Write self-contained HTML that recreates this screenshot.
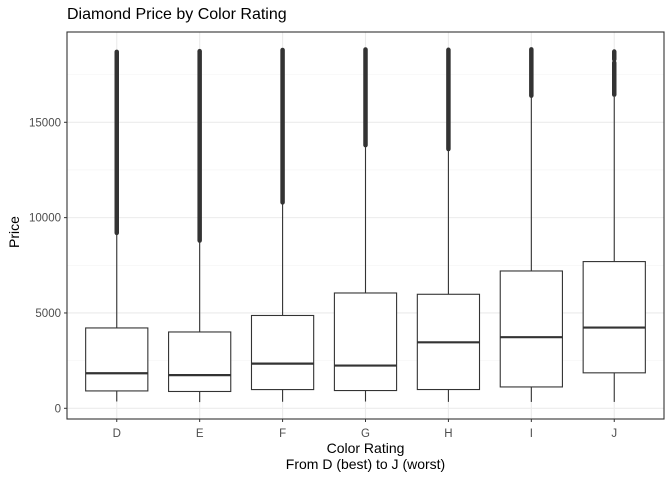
<!DOCTYPE html>
<html><head><meta charset="utf-8"><style>
body{margin:0;background:#fff;font-family:"Liberation Sans",Arial,sans-serif}
</style></head><body>
<svg id="chart" width="672" height="480" xmlns="http://www.w3.org/2000/svg"></svg>
<script>
const categories=["D","E","F","G","H","I","J"];
const mins=[357,326,342,354,337,334,335];
const q1s=[911,882,982,931,984,1120,1860];
const medians=[1838,1739,2344,2242,3460,3730,4234];
const q3s=[4214,4003,4868,6048,5980,7202,7695];
const upperWhiskers=[9100,8700,10700,13700,13500,16300,16330];
const outlierStarts=[[9200],[8800],[10800],[13800],[13600],[16400],[16450,18300]];
const outlierEnds=[[18693],[18731],[18791],[18818],[18803],[18823],[18130,18710]];
const yTicks=[0,5000,10000,15000];
const yMinor=[2500,7500,12500,17500];

const NS="http://www.w3.org/2000/svg";
const svg=document.getElementById('chart');
const L=67,R=664,T=32,B=419;
const y=v=>408.3-v*0.019067;
const step=(R-L)/(categories.length+0.2);
const x=i=>L+step*(i+0.6);
function mk(tag,attrs,parent){const e=document.createElementNS(NS,tag);for(const k in attrs)e.setAttribute(k,attrs[k]);(parent||svg).appendChild(e);return e;}

mk('rect',{x:L,y:T,width:R-L,height:B-T,fill:'#fff'});
yMinor.forEach(v=>{const l=mk('line',{x1:L,x2:R,y1:y(v),y2:y(v),stroke:'#f3f3f3','stroke-width':0.6});

});
yTicks.forEach(v=>{const l=mk('line',{x1:L,x2:R,y1:y(v),y2:y(v),stroke:'#ebebeb','stroke-width':1.1});


mk('line',{x1:L-3,x2:L,y1:y(v),y2:y(v),stroke:'#333','stroke-width':1});
const t=mk('text',{x:L-6,y:y(v)+4,'text-anchor':'end','font-size':11.5,fill:'#4d4d4d'});t.textContent=v;

});
categories.forEach((c,i)=>{const l=mk('line',{x1:x(i),x2:x(i),y1:T,y2:B,stroke:'#ebebeb','stroke-width':1.1});

});

categories.forEach((c,i)=>{
 const g=mk('g',{});
 
 
 const cx=x(i),w=step*0.75;
 mk('line',{x1:cx,x2:cx,y1:y(mins[i]),y2:y(q1s[i]),stroke:'#333','stroke-width':1.1},g);
 mk('line',{x1:cx,x2:cx,y1:y(q3s[i]),y2:y(upperWhiskers[i]),stroke:'#333','stroke-width':1.1},g);
 outlierStarts[i].forEach((s,k)=>{mk('line',{x1:cx,x2:cx,y1:y(s),y2:y(outlierEnds[i][k]),stroke:'#333','stroke-width':4.5,'stroke-linecap':'round'},g);});
 mk('rect',{x:cx-w/2,y:y(q3s[i]),width:w,height:y(q1s[i])-y(q3s[i]),fill:'#fff',stroke:'#333','stroke-width':1.1},g);
 mk('line',{x1:cx-w/2,x2:cx+w/2,y1:y(medians[i]),y2:y(medians[i]),stroke:'#333','stroke-width':2.2},g);
 mk('line',{x1:cx,x2:cx,y1:B,y2:B+3,stroke:'#333','stroke-width':1});
 const t=mk('text',{x:cx,y:437,'text-anchor':'middle','font-size':11.5,fill:'#4d4d4d'});t.textContent=c;
 
 
});
mk('rect',{x:L,y:T,width:R-L,height:B-T,fill:'none',stroke:'#333','stroke-width':1.1});
</script>
<div style="position:absolute;left:67px;top:6px;font-size:16px;color:#000">Diamond Price by Color Rating</div>
<div style="position:absolute;left:-6px;top:224px;width:40px;text-align:center;transform:rotate(-90deg);font-size:14px">Price</div>
<div style="position:absolute;left:67px;width:597px;top:440px;text-align:center;font-size:14px;line-height:16px">Color Rating<br>From D (best) to J (worst)</div>
</body></html>
